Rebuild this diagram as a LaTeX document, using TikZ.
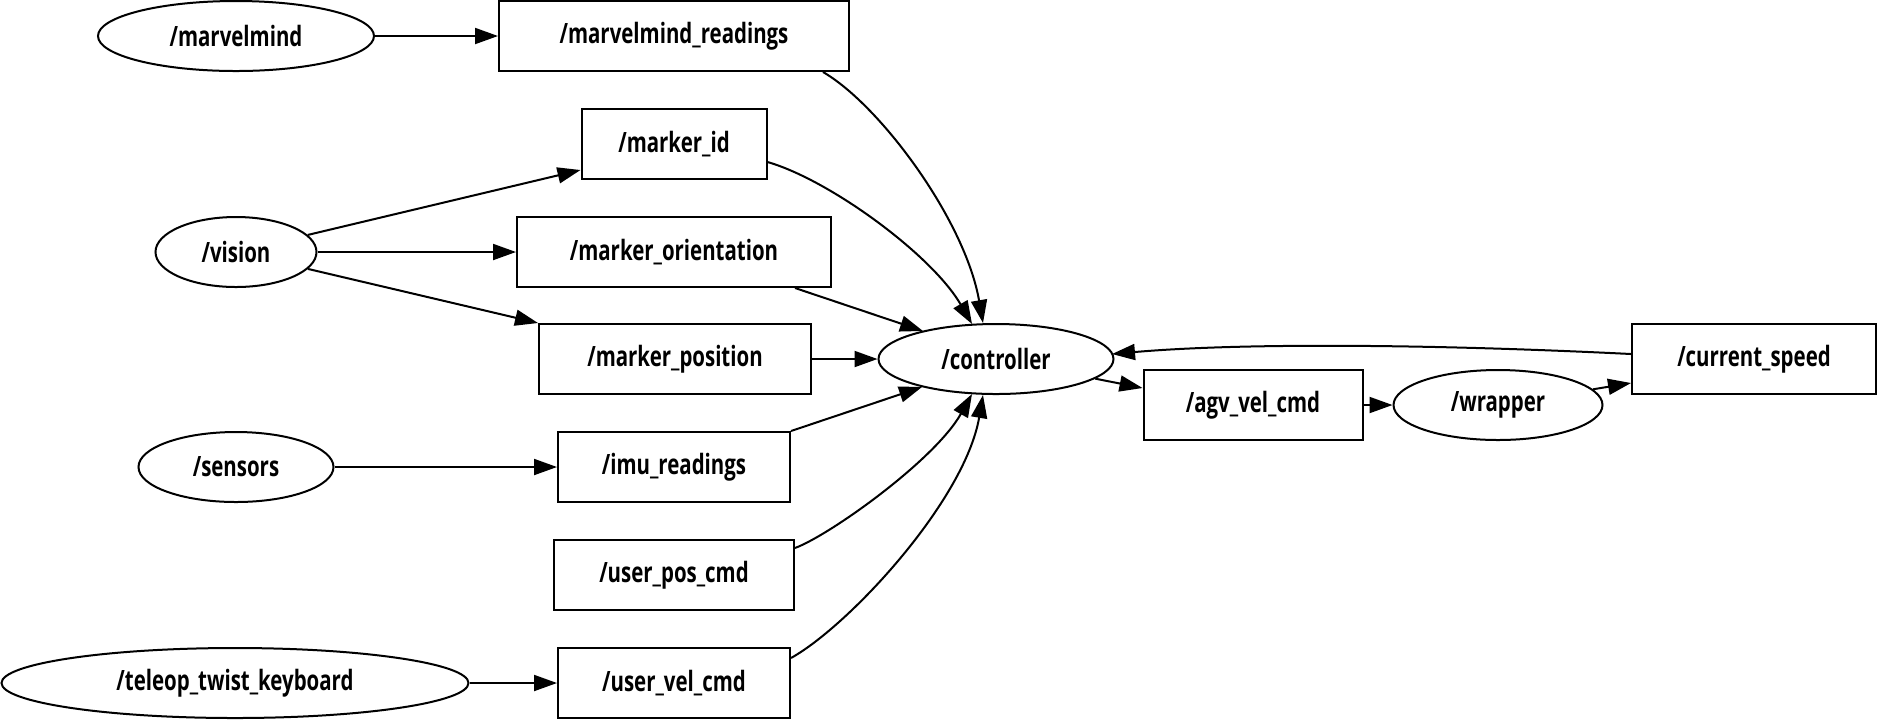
\documentclass[tikz,border=0pt]{standalone}
\usepackage{fontspec}
\newfontfamily\lblfont{Open Sans}[FakeStretch=0.73]
\usetikzlibrary{arrows.meta,shapes.geometric,calc}
\tikzset{
  base/.style={draw, line width=1pt, inner sep=0pt, font=\lblfont\bfseries\fontsize{14}{16}\selectfont},
  topic/.style={base, rectangle, minimum height=35pt},
  rosnode/.style={base, ellipse, minimum height=35pt},
  arr/.style={line width=1pt, -{Triangle[length=11.5pt,width=8pt]}}
}
\begin{document}
\begin{tikzpicture}[x=0.5pt,y=-0.5pt]
\useasboundingbox (0,0) rectangle (1878,720);
% nodes
\node[rosnode, minimum width=138pt] (mm) at (236,36) {/marvelmind};
\node[topic, minimum width=175pt] (mmr) at (674,36) {/marvelmind\_readings};
\node[topic, minimum width=92.5pt] (mid) at (674,144) {/marker\_id};
\node[rosnode, minimum width=80.5pt] (vis) at (236,252) {/vision};
\node[topic, minimum width=157pt] (mor) at (674,252) {/marker\_orientation};
\node[topic, minimum width=136pt] (mpos) at (675,359) {/marker\_position};
\node[rosnode, minimum width=117.5pt] (ctrl) at (996,359) {/controller};
\node[rosnode, minimum width=97.5pt] (sens) at (236,467) {/sensors};
\node[topic, minimum width=116pt] (imu) at (674,467) {/imu\_readings};
\node[topic, minimum width=120pt] (upc) at (674,575) {/user\_pos\_cmd};
\node[rosnode, minimum width=233.5pt] (tel) at (235,683) {/teleop\_twist\_keyboard};
\node[topic, minimum width=116pt] (uvc) at (674,683) {/user\_vel\_cmd};
\node[topic, minimum width=109.5pt] (agv) at (1253,405) {/agv\_vel\_cmd};
\node[rosnode, minimum width=104.5pt] (wrap) at (1498,405) {/wrapper};
\node[topic, minimum width=122pt] (cs) at (1754,359) {/current\_speed};
% edges
\draw[arr] (mm) -- (mmr);
\draw[arr] ($(mmr.south)+(149,0)$) .. controls (880,105) and (965,220) .. ($(ctrl.north)+(-13,0)$);
\draw[arr] ($(mid.east)+(0,18)$) .. controls (830,180) and (932,255) .. ($(ctrl.north)+(-24,1)$);
\draw[arr] ($(mor.south)+(121,0)$) -- ($(ctrl.center)+(-73,-28)$);
\draw[arr] (mpos) -- (ctrl);
\draw[arr] (imu.north east) -- ($(ctrl.center)+(-74,28)$);
\draw[arr] ($(upc.east)+(0,-27)$) .. controls (830,535) and (935,460) .. ($(ctrl.south)+(-24,-1)$);
\draw[arr] ($(uvc.east)+(0,-25)$) .. controls (850,625) and (965,500) .. ($(ctrl.south)+(-13,0)$);
\draw[arr] (vis) -- ($(mid.west)+(0,26)$);
\draw[arr] (vis) -- (mor);
\draw[arr] (vis) -- (mpos.north west);
\draw[arr] (sens) -- (imu);
\draw[arr] (tel) -- (uvc);
\draw[arr] (ctrl) -- ($(agv.west)+(0,-17)$);
\draw[arr] (agv) -- (wrap);
\draw[arr] (wrap) -- ($(cs.west)+(0,24)$);
\draw[arr] ($(cs.west)+(0,-5)$) .. controls (1450,345) and (1250,342) .. ($(ctrl.center)+(116,-5)$);
\end{tikzpicture}
\end{document}
